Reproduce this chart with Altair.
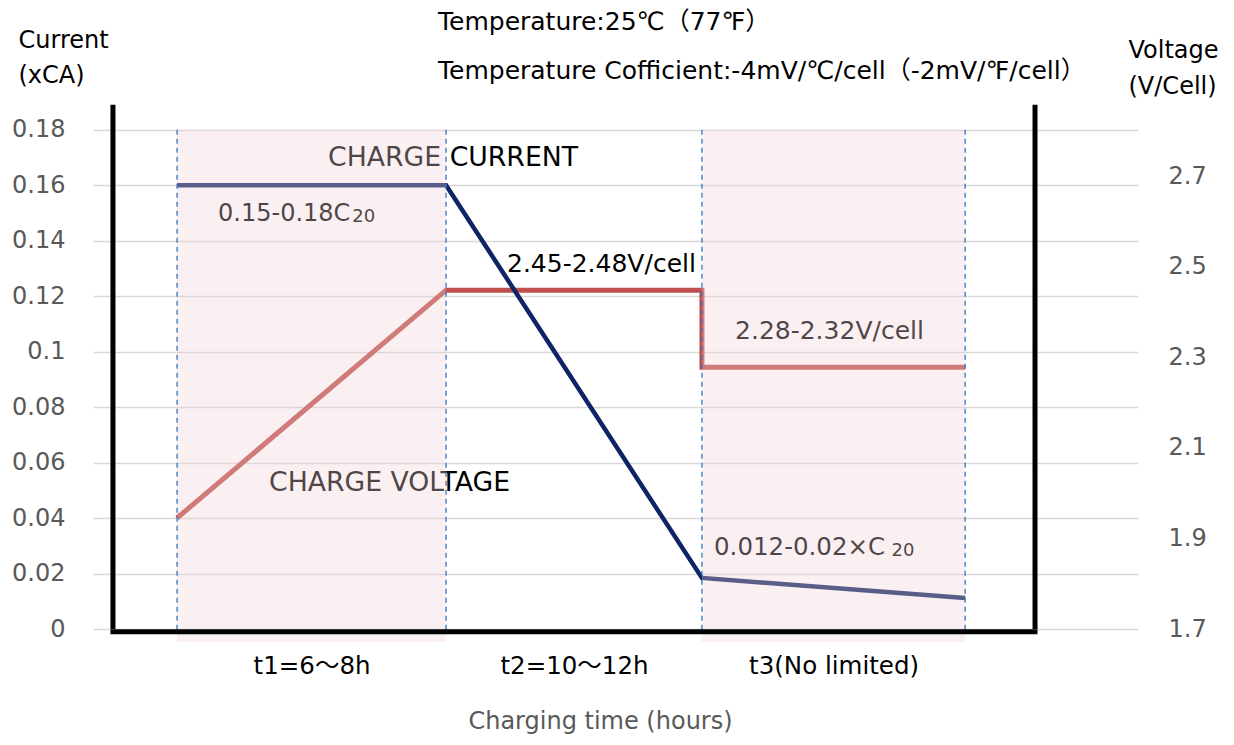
import altair as alt
import pandas as pd

# ---------------- data ----------------
boundaries = [0, 1.024, 1.998, 3.0]          # phase boundaries (relative time)
phase_labels = ["t1=6～8h", "t2=10～12h", "t3(No limited)"]

current_x = [0, 1.024, 1.998, 3.0]
current_y = [0.16, 0.16, 0.0184, 0.0112]

voltage_x = [0, 1.024, 1.998, 1.998, 3.0]
voltage_v = [1.945, 2.448, 2.448, 2.278, 2.278]

left_ticks = [0, 0.02, 0.04, 0.06, 0.08, 0.1, 0.12, 0.14, 0.16, 0.18]
right_ticks = [1.7, 1.9, 2.1, 2.3, 2.5, 2.7]

ann_text = ["CHARGE CURRENT", "0.15-0.18C", "20", "2.45-2.48V/cell",
            "2.28-2.32V/cell", "CHARGE VOLTAGE", "0.012-0.02×C", "20"]
ann_x = [0.575, 0.156, 0.667, 1.256, 2.124, 0.350, 2.044, 2.72]
ann_y = [0.1699, 0.1495, 0.1484, 0.1317, 0.1075, 0.0527, 0.0292, 0.0283]
ann_size = [26.7, 24, 18, 25, 25, 26.7, 24.5, 18]

header_text = ["Temperature:25℃（77℉）",
               "Temperature Cofficient:-4mV/℃/cell（-2mV/℉/cell）"]

frame_x = [-0.244, 3.266]
frame_top = 0.189

FONT = "DejaVu Sans, Noto Sans CJK SC"
GRAY = "#595959"

# ---------------- tables ----------------
cur_df = pd.DataFrame({"x": current_x, "y": current_y})
volt_df = pd.DataFrame({"x": voltage_x, "v": voltage_v})
ann_df = pd.DataFrame({"x": ann_x, "y": ann_y, "t": ann_text, "s": ann_size})
shade_df = pd.DataFrame({"x": [boundaries[0], boundaries[2]],
                         "x2": [boundaries[1], boundaries[3]],
                         "y": [0.18, 0.18], "y2": [-0.0047, -0.0047]})
dash_df = pd.DataFrame({"x": boundaries})
vframe_df = pd.DataFrame({"x": frame_x, "y": [frame_top] * 2, "y2": [0, 0]})
hframe_df = pd.DataFrame({"x": [frame_x[0]], "x2": [frame_x[1]], "y": [-0.001]})
header_df = pd.DataFrame({"t": header_text, "py": [-80, -31]})

mids = [(boundaries[i] + boundaries[i + 1]) / 2 for i in range(3)]
label_expr = (f"datum.value < {boundaries[1]} ? '{phase_labels[0]}' : "
              f"datum.value < {boundaries[2]} ? '{phase_labels[1]}' : '{phase_labels[2]}'")

xscale = alt.Scale(domain=[-0.32, 3.658], nice=False, zero=False)
yscale = alt.Scale(domain=[0, 0.19], nice=False, zero=False)
vscale = alt.Scale(domain=[1.7, 2.8634], nice=False, zero=False)

x_axis = alt.Axis(values=mids, labelExpr=label_expr, title="Charging time (hours)",
                  domain=False, ticks=False, grid=False, labelPadding=25,
                  labelFontSize=24.5, labelColor="black", labelFont=FONT,
                  titleFont=FONT, titleFontSize=24, titleFontWeight="normal",
                  titleColor=GRAY, titlePadding=32, titleX=507)

left_axis = alt.Axis(values=left_ticks, format="~g", orient="left",
                     grid=True, gridColor="#d9d9d9", gridWidth=1.3,
                     domain=False, ticks=False, labelPadding=28,
                     labelFontSize=24, labelColor=GRAY, labelFont=FONT,
                     title=["Current", "(xCA)"], titleAngle=0, titleAlign="left",
                     titleBaseline="top", titleX=-75, titleY=-74,
                     titleFont=FONT, titleFontSize=24, titleFontWeight="normal",
                     titleColor="black", titleLineHeight=35)

right_axis = alt.Axis(values=right_ticks, format=".1f", orient="right",
                      grid=False, domain=False, ticks=False, labelPadding=30,
                      labelFontSize=24, labelColor=GRAY, labelFont=FONT,
                      title=["Voltage", "(V/Cell)"], titleAngle=0, titleAlign="left",
                      titleBaseline="top", titleX=-10, titleY=-64,
                      titleFont=FONT, titleFontSize=24, titleFontWeight="normal",
                      titleColor="black", titleLineHeight=36)

X = alt.X("x:Q", scale=xscale)

# ---------------- layers ----------------
grid_layer = alt.Chart(cur_df).mark_line(opacity=0).encode(
    x=alt.X("x:Q", scale=xscale, axis=x_axis),
    y=alt.Y("y:Q", scale=yscale, axis=left_axis),
)

volt_axis_layer = alt.Chart(volt_df).mark_line(opacity=0).encode(
    x=X,
    y=alt.Y("v:Q", scale=vscale, axis=right_axis),
)

volt_line = alt.Chart(volt_df).mark_line(color="#c0504d", strokeWidth=5,
                                         strokeJoin="miter").encode(
    x=X,
    y=alt.Y("v:Q", scale=vscale, axis=None),
    order=alt.Order("idx:Q"),
).transform_window(idx="row_number()")

cur_line = alt.Chart(cur_df).mark_line(color="#0f2466", strokeWidth=4.5).encode(
    x=X,
    y=alt.Y("y:Q", scale=yscale, axis=None),
)

texts = alt.Chart(ann_df).mark_text(align="left", baseline="middle", font=FONT,
                                    color="black").encode(
    x=X,
    y=alt.Y("y:Q", scale=yscale, axis=None),
    text="t:N",
    size=alt.Size("s:Q", scale=None, legend=None),
)

shade = alt.Chart(shade_df).mark_rect(color="#f0d1d6", opacity=0.33).encode(
    x=X,
    x2="x2:Q",
    y=alt.Y("y:Q", scale=yscale, axis=None),
    y2="y2:Q",
)

dashes = alt.Chart(dash_df).mark_rule(color="#2f75c2", strokeWidth=1.3,
                                      strokeDash=[5, 4]).encode(
    x=X,
    y=alt.Y("top:Q", scale=yscale, axis=None),
    y2="bot:Q",
).transform_calculate(top="0.18", bot="-0.001")

vframe = alt.Chart(vframe_df).mark_rule(color="black", strokeWidth=5).encode(
    x=X,
    y=alt.Y("y:Q", scale=yscale, axis=None),
    y2="y2:Q",
)

hframe = alt.Chart(hframe_df).mark_rule(color="black", strokeWidth=5,
                                        strokeCap="square").encode(
    x=X,
    x2="x2:Q",
    y=alt.Y("y:Q", scale=yscale, axis=None),
)

header = alt.Chart(header_df).mark_text(
    align="left", baseline="middle", font=FONT, fontSize=25, color="black").encode(
    x=alt.value(345), y=alt.Y("py:Q", scale=None, axis=None), text="t:N")

chart = alt.layer(grid_layer, volt_axis_layer, volt_line, cur_line, texts, shade,
                  dashes, vframe, hframe, header).resolve_scale(
    y="independent").properties(
    width=1045, height=527,
    padding={"left": 85, "top": 94, "right": 88, "bottom": 108},
    autosize=alt.AutoSizeParams(type="none"),
    background="white",
).configure_view(stroke=None)

chart.save("out.html", embed_options={"renderer": "svg", "actions": False})
